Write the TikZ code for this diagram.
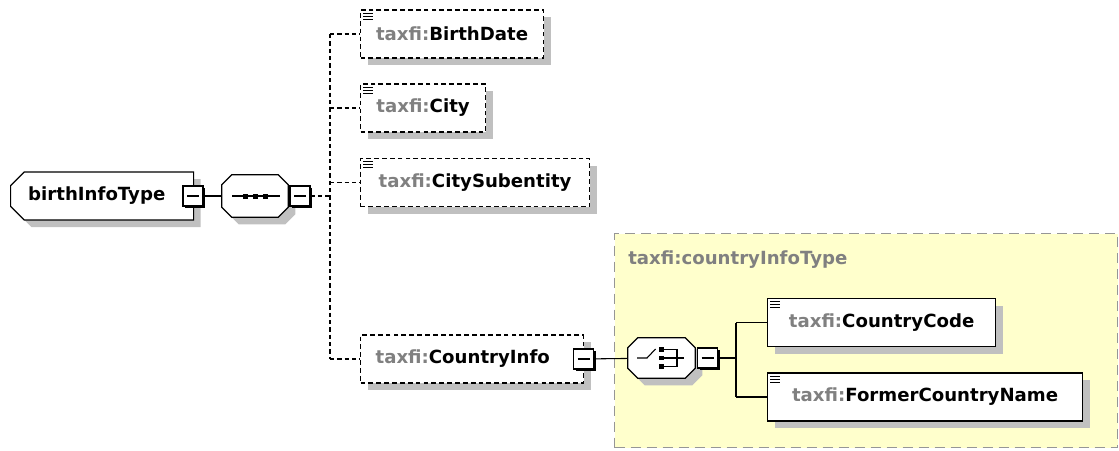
\documentclass[tikz,border=0pt]{standalone}
\usepackage{fontspec}
\setmainfont{DejaVu Sans}
\usetikzlibrary{shapes.misc,shadows,positioning}
\definecolor{prefixgray}{RGB}{128,128,128}
\definecolor{shadowgray}{RGB}{192,192,192}
\definecolor{typeyellow}{RGB}{255,255,204}
\definecolor{typeborder}{RGB}{150,150,150}
\newcommand{\qname}[1]{{\color{prefixgray}taxfi:}#1}
\newcommand{\listicon}[1]% element node
{\foreach \dy in {4,7,10}
	\draw[line width=0.8pt] ([shift={(3,\dy)}]#1.north west) -- ++(10,0);
}
\newcommand{\octpath}[2]% node, offset
{([shift={(#2)},xshift=7.5pt]#1.north west) -- ([shift={(#2)},xshift=-7.5pt]#1.north east)
 -- ([shift={(#2)},yshift=-7.5pt]#1.north east) -- ([shift={(#2)},yshift=7.5pt]#1.south east)
 -- ([shift={(#2)},xshift=-7.5pt]#1.south east) -- ([shift={(#2)},xshift=7.5pt]#1.south west)
 -- ([shift={(#2)},yshift=7.5pt]#1.south west) -- ([shift={(#2)},yshift=-7.5pt]#1.north west) -- cycle
}

\begin{document}
\begin{tikzpicture}[x=0.75pt,y=-0.75pt,
	every node/.style={font=\fontsize{13.6}{16}\selectfont\bfseries},
	elem/.style={draw,fill=white,line width=0.9pt,minimum height=36pt,inner sep=0pt,anchor=west,
		drop shadow={shadow xshift=5.25pt,shadow yshift=-5.25pt,fill=shadowgray,opacity=1}},
	optelem/.style={elem,dash pattern=on 3.6pt off 2.3pt},
	minusbox/.style={draw,fill=white,line width=0.8pt,minimum size=15pt,inner sep=0pt,
		drop shadow={shadow xshift=1.5pt,shadow yshift=-1.5pt,fill=black,opacity=1},
		path picture={\draw[line width=0.8pt] ([xshift=3pt]path picture bounding box.west) -- ([xshift=-3pt]path picture bounding box.east);}},
	compositor/.style={inner sep=0pt},
	link/.style={line width=0.8pt},
	optlink/.style={link,dash pattern=on 3.2pt off 2.3pt}]
	\useasboundingbox (0,0) rectangle (1119,450);
	% complex type countryInfoType
	\node[draw=typeborder,fill=typeyellow,line width=0.9pt,dash pattern=on 7.5pt off 4.5pt,
		minimum width=377.25pt,minimum height=160.5pt,anchor=north west] (ctype) at (614,233) {};
	\node[anchor=west,text=prefixgray,inner sep=0pt] (ctlabel) at (628,260) {taxfi:countryInfoType};
	% birthInfoType
	\node[chamfered rectangle,chamfered rectangle xsep=7.5pt,chamfered rectangle corners={north west,south west},
		draw,fill=white,line width=0.9pt,inner sep=0pt,
		drop shadow={shadow xshift=5.25pt,shadow yshift=-5.25pt,fill=shadowgray,opacity=1},
		minimum width=137.25pt,minimum height=36pt,anchor=west] (root) at (10,196) {birthInfoType\hspace*{8pt}};
	\node[minusbox] (rmin) at (193,196) {};
	\node[compositor,minimum width=49.5pt,minimum height=31.5pt] (seq) at (255,196) {};
	\fill[shadowgray] \octpath{seq}{7,7};
	\draw[fill=white,line width=0.9pt] \octpath{seq}{0,0};
	\node[minusbox] (smin) at (300,196) {};
	\begin{scope}[shift={(seq.center)},line width=0.8pt]
		\draw (-23,0) -- (25,0);
		\foreach \sx in {-10,0,10}
			\fill (\sx-2.5,-2.5) rectangle (\sx+2.5,2.5);
	\end{scope}
	% elements
	\node[optelem,minimum width=137.25pt] (bdate) at (360,34) {\qname{BirthDate}};
	\node[optelem,minimum width=93.75pt] (city) at (360,108) {\qname{City}};
	\node[optelem,minimum width=171.75pt] (citysub) at (360,182.5) {\qname{CitySubentity}};
	\node[optelem,minimum width=167.25pt] (cinfo) at (360,359) {\qname{CountryInfo}\hspace*{14pt}};
	\node[minusbox] (cmin) at (583.5,359) {};
	\listicon{bdate}
	\listicon{city}
	\listicon{citysub}
	\coordinate (sbus) at (330,196);
	\draw[link] (rmin) -- (seq);
	\draw[optlink] (smin) -- (sbus);
	\draw[optlink] (sbus |- bdate.west) -- (sbus |- cinfo.west);
	\foreach \n in {bdate,city,citysub,cinfo}
		\draw[optlink] (sbus |- \n.west) -- (\n.west);
	% choice
	\node[compositor,minimum width=50.25pt,minimum height=30pt] (choice) at (661.5,358) {};
	\fill[shadowgray] \octpath{choice}{7,7};
	\draw[fill=white,line width=0.9pt] \octpath{choice}{0,0};
	\node[minusbox] (chmin) at (707.5,358) {};
	\begin{scope}[shift={(choice.center)},line width=0.8pt]
		\draw (-24.5,0) -- (-14.5,0) -- (-6,-9);
		\foreach \sy in {-8.5,0,8.5}
			\fill (-2.5,\sy-2.2) rectangle (2,\sy+2.2);
		\draw (2,-8.5) -- (15.5,-8.5) -- (15.5,8.5) -- (2,8.5);
		\draw (2,0) -- (22,0);
	\end{scope}
	\node[elem,minimum width=171pt] (ccode) at (767,322.5) {\qname{CountryCode}};
	\node[elem,minimum width=236.25pt] (fcname) at (767,397) {\qname{FormerCountryName}};
	\listicon{ccode}
	\listicon{fcname}
	\coordinate (cbus) at (736,358);
	\draw[link] (cmin) -- (choice);
	\draw[link] (chmin) -- (cbus);
	\draw[link] (cbus |- ccode.west) -- (cbus |- fcname.west);
	\foreach \n in {ccode,fcname}
		\draw[link] (cbus |- \n.west) -- (\n.west);
\end{tikzpicture}
\end{document}
